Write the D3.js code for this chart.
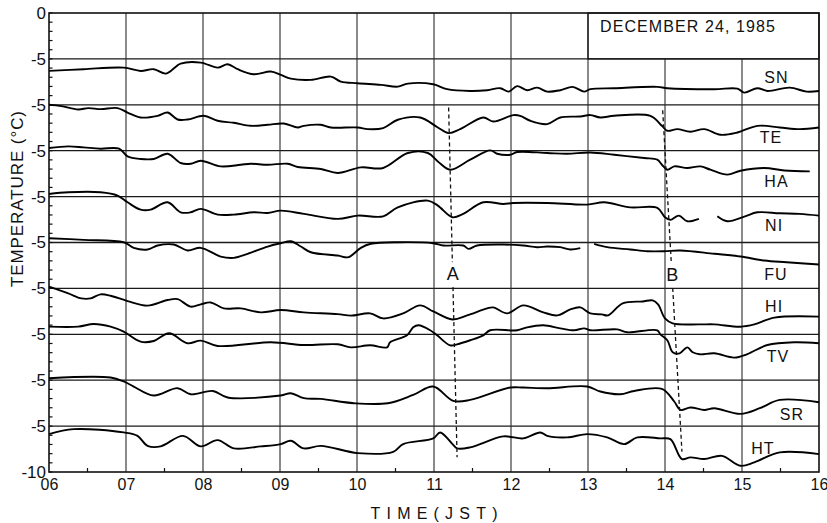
<!DOCTYPE html>
<html>
<head>
<meta charset="utf-8">
<script src="https://cdn.jsdelivr.net/npm/d3@7/dist/d3.min.js"></script>
<style>
body { margin: 0; background: #fff; }
text { font-family: "Liberation Sans", Arial, sans-serif; fill: #111; }
</style>
</head>
<body>
<svg id="chart" width="827" height="523"></svg>
<script>
// station names, top to bottom
var stations = ["SN", "TE", "HA", "NI", "FU", "HI", "TV", "SR", "HT"];
var hours = [6, 7, 8, 9, 10, 11, 12, 13, 14, 15, 16];
var bandTicks = [0, -5, -10, -15, -20, -25, -30, -35, -40, -45, -50];

// [time (h JST), temperature (degC)]
var snData = [[6.0,-6.31],[6.45,-6.12],[6.97,-5.95],[7.19,-6.31],[7.36,-6.12],[7.52,-6.60],[7.71,-5.51],[7.97,-5.40],[8.19,-5.95],[8.32,-5.58],[8.45,-6.12],[8.66,-6.67],[8.88,-6.38],[9.01,-6.74],[9.14,-7.15],[9.40,-7.29],[9.66,-6.93],[9.79,-7.47],[10.01,-7.65],[10.31,-7.83],[10.53,-8.02],[10.66,-7.69],[10.99,-7.76],[11.17,-8.30],[11.47,-8.49],[11.69,-8.41],[11.86,-8.19],[11.97,-8.56],[12.08,-7.97],[12.21,-8.41],[12.34,-8.13],[12.47,-8.56],[12.64,-8.41],[12.80,-8.05],[12.95,-8.56],[13.03,-8.30],[13.34,-8.19],[13.90,-8.05],[14.03,-8.19],[14.64,-8.30],[14.94,-8.24],[15.03,-8.67],[15.20,-8.19],[15.33,-8.49],[15.62,-8.13],[15.84,-8.56],[16.0,-8.49]];
var teData = [[6.0,-5.00],[6.16,-5.14],[6.38,-5.51],[6.51,-5.36],[6.67,-5.47],[6.89,-5.36],[7.02,-5.84],[7.19,-6.38],[7.41,-6.20],[7.54,-5.84],[7.67,-6.60],[7.80,-6.60],[8.01,-6.20],[8.19,-6.74],[8.40,-6.96],[8.62,-7.29],[8.84,-7.18],[9.05,-7.04],[9.23,-7.47],[9.31,-7.29],[9.53,-7.18],[9.66,-7.47],[10.01,-7.47],[10.14,-7.65],[10.34,-7.54],[10.53,-6.63],[10.82,-6.38],[11.05,-7.47],[11.19,-8.08],[11.34,-7.65],[11.64,-6.38],[11.77,-6.82],[12.03,-6.12],[12.12,-6.20],[12.25,-6.74],[12.47,-7.10],[12.64,-6.38],[12.90,-6.27],[13.03,-6.12],[13.16,-6.38],[13.34,-6.20],[13.81,-6.20],[13.96,-7.29],[14.03,-7.83],[14.16,-7.65],[14.33,-7.94],[14.51,-7.65],[14.72,-8.27],[14.94,-8.02],[15.20,-7.29],[15.49,-7.47],[15.75,-7.65],[16.0,-7.47]];
var haData = [[6.0,-4.71],[6.25,-4.53],[6.45,-4.64],[6.67,-4.78],[6.91,-4.78],[7.02,-5.62],[7.19,-5.90],[7.36,-5.90],[7.54,-5.33],[7.71,-6.34],[7.84,-6.42],[7.97,-6.09],[8.23,-6.71],[8.49,-6.53],[8.62,-6.42],[8.84,-6.53],[9.10,-6.42],[9.23,-6.78],[9.53,-6.99],[9.75,-7.43],[10.05,-6.82],[10.34,-6.88],[10.66,-5.25],[10.92,-5.25],[11.05,-6.17],[11.21,-7.07],[11.47,-5.98],[11.73,-4.97],[11.82,-5.33],[11.99,-5.44],[12.08,-5.14],[12.47,-5.25],[12.73,-5.33],[13.03,-5.19],[13.34,-5.44],[13.73,-5.80],[13.90,-5.98],[13.96,-6.53],[14.03,-7.07],[14.12,-6.71],[14.29,-6.88],[14.46,-6.71],[14.59,-7.07],[14.81,-7.61],[14.98,-7.18],[15.29,-6.88],[15.55,-7.15],[15.88,-7.25]];
var niData = [[6.0,-4.71],[6.25,-4.53],[6.67,-4.53],[6.89,-4.89],[7.02,-5.62],[7.19,-6.42],[7.32,-6.42],[7.54,-5.62],[7.71,-6.71],[7.84,-6.71],[7.97,-6.34],[8.19,-6.96],[8.40,-6.96],[8.66,-6.71],[8.84,-6.78],[9.01,-6.53],[9.31,-6.88],[9.75,-7.43],[10.01,-7.07],[10.34,-7.15],[10.53,-6.17],[10.92,-5.44],[11.05,-5.98],[11.24,-7.25],[11.38,-6.88],[11.64,-5.62],[11.90,-5.80],[12.03,-5.69],[12.47,-5.69],[12.99,-5.87],[13.21,-5.62],[13.55,-6.17],[13.90,-6.23],[14.00,-7.25],[14.07,-7.54],[14.18,-7.07],[14.29,-7.69],[14.44,-7.43],[14.56,null],[14.68,-7.15],[14.81,-7.69],[15.03,-7.18],[15.20,-6.71],[15.49,-6.82],[15.75,-6.88],[16.0,-7.07]];
var fuData = [[6.0,-4.53],[6.45,-4.71],[6.97,-4.97],[7.10,-5.58],[7.28,-5.76],[7.41,-5.33],[7.62,-5.22],[7.80,-5.87],[7.97,-5.58],[8.23,-6.53],[8.40,-6.67],[8.58,-6.23],[8.84,-5.44],[9.01,-5.08],[9.14,-4.86],[9.27,-5.44],[9.40,-6.06],[9.75,-6.42],[9.89,-6.60],[10.05,-5.58],[10.18,-5.14],[10.53,-4.97],[10.99,-5.08],[11.12,-5.33],[11.38,-5.33],[11.45,-5.69],[11.56,-5.33],[11.90,-5.22],[12.16,-5.33],[12.34,-5.51],[12.47,-5.44],[12.64,-5.51],[12.77,-5.76],[12.90,-5.62],[12.96,null],[13.08,-5.14],[13.25,-5.51],[13.55,-5.76],[13.77,-5.95],[13.99,-5.95],[14.20,-5.87],[14.64,-6.23],[14.98,-6.53],[15.29,-6.96],[15.58,-7.15],[16.0,-7.40]];
var hiData = [[6.0,-4.81],[6.25,-5.54],[6.42,-6.09],[6.54,-6.09],[6.67,-5.65],[6.80,-5.80],[7.02,-6.38],[7.28,-6.88],[7.54,-6.27],[7.67,-6.17],[7.84,-6.99],[7.97,-6.74],[8.10,-6.53],[8.27,-7.18],[8.49,-7.18],[8.75,-7.61],[9.01,-7.36],[9.31,-7.61],[9.75,-7.80],[9.92,-7.97],[10.17,-7.72],[10.34,-8.27],[10.60,-7.72],[10.82,-6.85],[10.99,-7.51],[11.24,-8.38],[11.43,-7.94],[11.69,-7.18],[11.77,-7.07],[11.95,-7.72],[12.16,-6.85],[12.42,-7.61],[12.60,-7.94],[12.77,-7.29],[12.90,-7.07],[13.03,-7.72],[13.18,-7.83],[13.26,-7.94],[13.45,-6.63],[13.71,-6.42],[13.84,-6.31],[13.91,-6.74],[14.00,-8.27],[14.10,-8.81],[14.45,-8.92],[14.64,-8.92],[14.98,-9.17],[15.16,-8.92],[15.42,-8.19],[16.0,-8.08]];
var tvData = [[6.0,-4.16],[6.38,-4.16],[6.58,-3.88],[6.80,-4.16],[6.97,-4.71],[7.19,-5.80],[7.36,-5.73],[7.56,-4.89],[7.80,-5.98],[7.97,-5.69],[8.19,-6.27],[8.88,-5.87],[9.31,-6.17],[9.75,-6.09],[9.92,-6.42],[10.17,-6.20],[10.39,-6.42],[10.43,-5.87],[10.65,-5.11],[10.73,-4.24],[10.80,-4.02],[10.95,-4.56],[11.04,-5.11],[11.21,-6.20],[11.30,-6.09],[11.47,-5.65],[11.64,-5.11],[11.73,-4.56],[12.08,-4.56],[12.21,-4.24],[12.42,-4.02],[12.64,-4.35],[12.82,-4.56],[12.95,-4.35],[13.03,-4.56],[13.38,-4.46],[13.51,-4.78],[13.90,-4.56],[13.94,-5.00],[14.03,-5.65],[14.10,-6.96],[14.19,-7.07],[14.29,-6.42],[14.36,-6.96],[14.45,-7.18],[14.64,-7.07],[14.90,-7.54],[15.07,-7.15],[15.33,-6.17],[15.68,-5.87],[16.0,-5.98]];
var srData = [[6.0,-4.78],[6.80,-4.71],[6.97,-5.14],[7.10,-5.69],[7.36,-6.67],[7.67,-5.87],[7.84,-6.53],[8.13,-6.17],[8.32,-6.88],[9.01,-6.67],[9.14,-6.42],[9.31,-6.96],[9.53,-7.04],[9.96,-7.51],[10.40,-7.51],[10.73,-6.60],[10.99,-5.69],[11.25,-7.25],[11.47,-7.15],[11.99,-5.80],[12.16,-5.80],[12.47,-5.87],[12.99,-5.69],[13.16,-6.23],[13.42,-6.53],[13.60,-6.17],[13.96,-5.95],[14.12,-7.32],[14.20,-8.24],[14.33,-7.97],[14.51,-8.24],[14.64,-8.05],[14.98,-8.67],[15.23,-8.05],[15.49,-7.15],[16.0,-7.40]];
var htData = [[6.0,-5.87],[6.32,-5.33],[6.97,-5.69],[7.15,-6.06],[7.28,-7.15],[7.45,-7.21],[7.74,-6.06],[7.97,-7.21],[8.19,-6.53],[8.40,-7.43],[8.75,-7.21],[9.01,-6.96],[9.14,-6.60],[9.31,-7.43],[9.53,-7.15],[10.01,-7.94],[10.47,-7.80],[10.60,-6.96],[10.99,-6.34],[11.08,-5.69],[11.24,-6.96],[11.30,-7.43],[11.47,-7.32],[11.90,-6.12],[12.16,-6.34],[12.38,-5.69],[12.47,-6.06],[12.73,-6.23],[12.99,-5.87],[13.25,-6.23],[13.47,-6.96],[13.64,-6.23],[13.94,-6.34],[14.07,-6.42],[14.22,-8.59],[14.33,-8.41],[14.51,-8.59],[14.74,-8.24],[14.98,-9.32],[15.16,-8.95],[15.49,-7.86],[16.0,-8.05]];

var series = [snData, teData, haData, niData, fuData, hiData, tvData, srData, htData];

// front lines A and B: [time, stacked value] at top and bottom
var fronts = [
    {name: "A", top: [11.19, -10.3], bottom: [11.30, -48.4], label: -29.1},
    {name: "B", top: [13.97, -10.6], bottom: [14.22, -47.8], label: -29.2}
];

// station label placement: hour of left edge, px below its -5 line
var labelPos = [[15.29, 24], [15.23, 38], [15.29, 36], [15.30, 34], [15.29, 37],
                [15.30, 24], [15.32, 28], [15.49, 40], [15.12, 28]];

var svg = d3.select("#chart");

var x = d3.scaleLinear().domain([6, 16]).range([49, 819]);
var y = d3.scaleLinear().domain([0, -50]).range([13, 472]);

// horizontal band lines
svg.append("g").selectAll("line")
    .data(bandTicks.slice(1, -1))
    .enter().append("line")
    .attr("x1", x(6)).attr("x2", x(16))
    .attr("y1", d => y(d)).attr("y2", d => y(d))
    .attr("stroke", "#1a1a1a").attr("stroke-width", 1.3);

// vertical hour lines (14 and 15 stop under the date box)
svg.append("g").selectAll("line")
    .data(hours.slice(1, -1))
    .enter().append("line")
    .attr("x1", d => x(d)).attr("x2", d => x(d))
    .attr("y1", d => d > 13 ? y(-5) : y(0))
    .attr("y2", y(-50))
    .attr("stroke", "#2a2a2a").attr("stroke-width", 1.1);

// frame
svg.append("rect")
    .attr("x", x(6)).attr("y", y(0))
    .attr("width", x(16) - x(6)).attr("height", y(-50) - y(0))
    .attr("fill", "none").attr("stroke", "#111").attr("stroke-width", 1.6);

// date box
svg.append("rect")
    .attr("x", x(13)).attr("y", y(0))
    .attr("width", x(16) - x(13)).attr("height", y(-5) - y(0))
    .attr("fill", "none").attr("stroke", "#111").attr("stroke-width", 1.2);
svg.append("text")
    .attr("x", 600).attr("y", 32)
    .attr("textLength", 175).attr("lengthAdjust", "spacing")
    .style("font-size", "16px")
    .text("DECEMBER 24, 1985");

// minor ticks, 1 degC on left, half hours on bottom
svg.append("g").selectAll("line")
    .data(d3.range(0, -51, -1))
    .enter().append("line")
    .attr("x1", x(6)).attr("x2", x(6) + 3.5)
    .attr("y1", d => y(d)).attr("y2", d => y(d))
    .attr("stroke", "#111").attr("stroke-width", 1.2);
svg.append("g").selectAll("line")
    .data(d3.range(6.5, 16, 1))
    .enter().append("line")
    .attr("x1", d => x(d)).attr("x2", d => x(d))
    .attr("y1", y(-50)).attr("y2", y(-50) - 4)
    .attr("stroke", "#111").attr("stroke-width", 1.2);

// axis labels
var yAxis = d3.axisLeft(y)
    .tickValues(bandTicks)
    .tickSize(0).tickPadding(3)
    .tickFormat(d => d === 0 ? "0" : (d === -50 ? "-10" : "-5"));
var gy = svg.append("g").attr("transform", "translate(" + x(6) + ",0)").call(yAxis);
gy.select(".domain").remove();
gy.selectAll("text").style("font-size", "17px").style("font-family", "Liberation Sans, Arial, sans-serif").attr("fill", "#111");

var xAxis = d3.axisBottom(x)
    .tickValues(hours)
    .tickSize(0).tickPadding(7)
    .tickFormat(d3.format("02d"));
var gx = svg.append("g").attr("transform", "translate(0," + y(-50) + ")").call(xAxis);
gx.select(".domain").remove();
gx.selectAll("text").style("font-size", "16px").style("font-family", "Liberation Sans, Arial, sans-serif").attr("fill", "#111");

svg.append("text")
    .attr("x", 434).attr("y", 519)
    .attr("text-anchor", "middle")
    .attr("textLength", 127).attr("lengthAdjust", "spacing")
    .style("font-size", "16px")
    .text("TIME(JST)");

svg.append("text")
    .attr("transform", "translate(23,199) rotate(-90)")
    .attr("text-anchor", "middle")
    .attr("textLength", 176).attr("lengthAdjust", "spacing")
    .style("font-size", "17px")
    .text("TEMPERATURE (\u00B0C)");

// temperature traces, each offset by 5 degC per station
var line = d3.line()
    .defined(d => d[1] !== null)
    .curve(d3.curveCatmullRom.alpha(0.5));

svg.append("g").selectAll("path")
    .data(series)
    .enter().append("path")
    .attr("d", (s, i) => line.x(d => x(d[0])).y(d => y(d[1] - 5 * i))(s))
    .attr("fill", "none")
    .attr("stroke", "#000")
    .attr("stroke-width", 1.9)
    .attr("stroke-linejoin", "round");

// station names
svg.append("g").selectAll("text")
    .data(stations)
    .enter().append("text")
    .attr("x", (d, i) => x(labelPos[i][0]))
    .attr("y", (d, i) => y(-5 * (i + 1)) + labelPos[i][1])
    .attr("letter-spacing", 1)
    .style("font-size", "16px")
    .text(d => d);

// dashed front lines with a gap for the letter
fronts.forEach(f => {
    var x0 = x(f.top[0]), y0 = y(f.top[1]);
    var x1 = x(f.bottom[0]), y1 = y(f.bottom[1]);
    var ly = y(f.label);
    var at = yy => x0 + (x1 - x0) * (yy - y0) / (y1 - y0);
    var segs = [[y0, ly - 18], [ly + 7, y1]];
    segs.forEach(s => {
        svg.append("line")
            .attr("x1", at(s[0])).attr("y1", s[0])
            .attr("x2", at(s[1])).attr("y2", s[1])
            .attr("stroke", "#111").attr("stroke-width", 1.3)
            .attr("stroke-dasharray", "4,3");
    });
    svg.append("text")
        .attr("x", at(ly)).attr("y", ly)
        .attr("text-anchor", "middle")
        .style("font-size", "18px")
        .text(f.name);
});
</script>
</body>
</html>
